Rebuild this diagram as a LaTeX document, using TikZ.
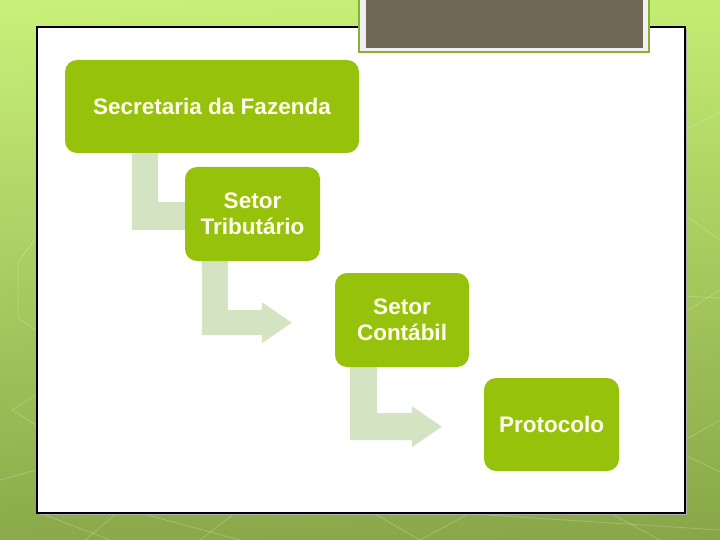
\documentclass[tikz,border=0pt]{standalone}
\usepackage{fontspec}
\setmainfont{Liberation Sans}
\usetikzlibrary{backgrounds,shadings}
\definecolor{boxgreen}{RGB}{151,194,12}
\definecolor{boxtext}{RGB}{255,255,236}
\definecolor{bendgreen}{RGB}{212,227,193}
\definecolor{bannerdark}{RGB}{113,103,86}
\definecolor{bannerline}{RGB}{136,176,52}
\definecolor{bgul}{RGB}{201,240,122}
\definecolor{bgur}{RGB}{196,236,114}
\definecolor{bgll}{RGB}{138,170,74}
\definecolor{bglr}{RGB}{136,166,72}

\begin{document}
\begin{tikzpicture}[x=1pt,y=-1pt,
		box/.style={fill=boxgreen, rounded corners=12pt, text=boxtext, align=center,
			inner sep=0pt, font=\bfseries\fontsize{22.5}{26.5}\selectfont},
		bendarrow/.style={fill=bendgreen},
		hexline/.style={white, opacity=0.22, line width=0.8pt}]
		\useasboundingbox (0,0) rectangle (720,540);

		\node[box, minimum width=294pt, minimum height=93pt] at (212,106.5)(0){Secretaria da Fazenda};
		\node[box, minimum width=135pt, minimum height=94pt] at (252.5,214)(1){Setor\\Tributário};
		\node[box, minimum width=134pt, minimum height=94pt] at (402,320)(2){Setor\\Contábil};
		\node[box, minimum width=135pt, minimum height=93pt] at (551.5,424.5)(3){Protocolo};

		\begin{scope}[on background layer]
		\shade[upper left=bgul, upper right=bgur, lower left=bgll, lower right=bglr]
			(0,0) rectangle (720,540);
		\draw[hexline] (36,238)--(18,262)--(18,318)--(36,330);
		\draw[hexline] (36,395)--(12,410)--(36,425);
		\draw[hexline] (0,480)--(36,470);
		\draw[hexline] (685,130)--(720,112);
		\draw[hexline] (685,215)--(720,240);
		\draw[hexline] (685,296)--(720,298);
		\draw[hexline] (685,312)--(720,290);
		\draw[hexline] (685,440)--(720,420);
		\draw[hexline] (685,455)--(720,472);
		\draw[hexline] (40,513)--(110,540);
		\draw[hexline] (117,513)--(85,540);
		\draw[hexline] (140,513)--(240,540);
		\draw[hexline] (200,540)--(235,513);
		\draw[hexline] (373,513)--(420,540);
		\draw[hexline] (420,540)--(470,513);
		\draw[hexline] (457,513)--(720,530);
		\draw[hexline] (610,513)--(660,540);

		% slide frame and banner
		\fill[black!30] (39,29) rectangle (687,515);
		\draw[fill=white, line width=1.3pt] (37,27) rectangle (685,513);
		\fill[bannerline] (358,0) rectangle (650,53);
		\fill[white!94!black] (360,0) rectangle (648,51);
		\fill[bannerdark] (366,0) rectangle (643,48);

		% bent arrows
		\fill[bendarrow] ([xshift=67pt]0.south west) -- ++(0,77) -- ++(60,0) -- ++(0,-28)
			-- ++(-34,0) -- ++(0,-49) -- cycle;
		\fill[bendarrow] ([xshift=17pt]1.south west) -- ++(0,74) -- ++(60,0) -- ++(0,8)
			-- ++(30,-20.5) coordinate(t1) -- ++(-30,-20.5) -- ++(0,8) -- ++(-34,0)
			-- ++(0,-49) -- cycle;
		\fill[bendarrow] ([xshift=15pt]2.south west) -- ++(0,73) -- ++(62,0) -- ++(0,7)
			-- ++(30,-20.5) coordinate(t2) -- ++(-30,-20.5) -- ++(0,7) -- ++(-35,0)
			-- ++(0,-46) -- cycle;
		\end{scope}
	\end{tikzpicture}
\end{document}
